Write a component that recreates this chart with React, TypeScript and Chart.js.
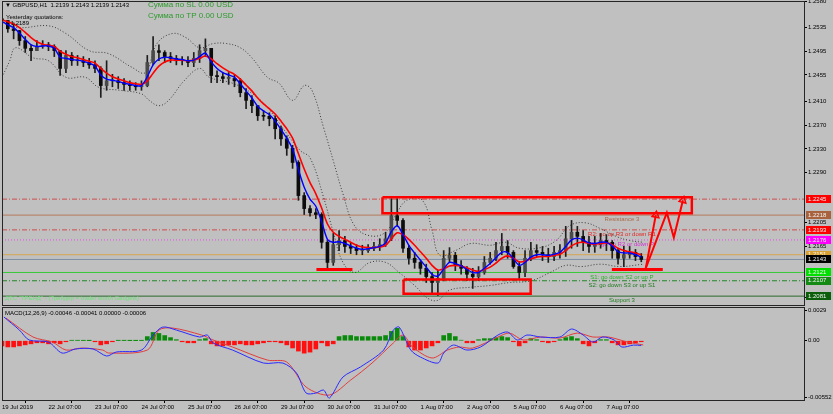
import React, { useEffect, useRef } from 'react';
import { Chart, registerables } from 'chart.js';
Chart.register(...registerables);

const FONT = '"Liberation Sans", Arial, sans-serif';

// ---- time axis (hours since 19 Jul 2019 07:00, weekend removed) ----
const dateLabels = ['19 Jul 2019', '22 Jul 07:00', '23 Jul 07:00', '24 Jul 07:00', '25 Jul 07:00', '26 Jul 07:00', '29 Jul 07:00', '30 Jul 07:00', '31 Jul 07:00', '1 Aug 07:00', '2 Aug 07:00', '5 Aug 07:00', '6 Aug 07:00', '7 Aug 07:00'];
const dateHours = [0, 24, 48, 72, 96, 120, 144, 168, 192, 216, 240, 264, 288, 312];
const hourMin = 0;
const hourMax = 414;
const candleStepHours = 3;

// ---- GBPUSD candles (3-hour aggregation) ----
const opens = [
  1.2550, 1.2547, 1.2533, 1.2530, 1.2513, 1.2500, 1.2496, 1.2503, 1.2506, 1.2503,
  1.2496, 1.2466, 1.2488, 1.2479, 1.2479, 1.2476, 1.2472, 1.2466, 1.2437, 1.2445,
  1.2445, 1.2442, 1.2439, 1.2437, 1.2435, 1.2437, 1.2476, 1.2496, 1.2493, 1.2486,
  1.2483, 1.2479, 1.2479, 1.2476, 1.2483, 1.2496, 1.2500, 1.2454, 1.2452, 1.2449,
  1.2449, 1.2445, 1.2425, 1.2412, 1.2403, 1.2386, 1.2385, 1.2381, 1.2364, 1.2347,
  1.2331, 1.2307, 1.2251, 1.2229, 1.2222, 1.2219, 1.2172, 1.2138, 1.2168, 1.2175,
  1.2165, 1.2162, 1.2158, 1.2158, 1.2162, 1.2165, 1.2168, 1.2178, 1.2217, 1.2209,
  1.2162, 1.2145, 1.2138, 1.2128, 1.2114, 1.2104, 1.2111, 1.2145, 1.2150, 1.2133,
  1.2128, 1.2118, 1.2114, 1.2121, 1.2138, 1.2145, 1.2158, 1.2165, 1.2155, 1.2131,
  1.2121, 1.2145, 1.2158, 1.2155, 1.2151, 1.2148, 1.2155, 1.2158, 1.2178, 1.2189,
  1.2182, 1.2172, 1.2165, 1.2168, 1.2175, 1.2172, 1.2158, 1.2145, 1.2151, 1.2155,
  1.2148,
];
const highs = [
  1.2555, 1.2547, 1.2543, 1.2530, 1.2520, 1.2506, 1.2513, 1.2513, 1.2510, 1.2506,
  1.2496, 1.2496, 1.2493, 1.2488, 1.2486, 1.2483, 1.2479, 1.2469, 1.2479, 1.2456,
  1.2452, 1.2449, 1.2445, 1.2442, 1.2445, 1.2488, 1.2520, 1.2506, 1.2496, 1.2493,
  1.2488, 1.2486, 1.2486, 1.2493, 1.2506, 1.2516, 1.2500, 1.2462, 1.2459, 1.2459,
  1.2456, 1.2449, 1.2432, 1.2420, 1.2403, 1.2395, 1.2391, 1.2386, 1.2368, 1.2352,
  1.2336, 1.2310, 1.2256, 1.2234, 1.2229, 1.2222, 1.2175, 1.2187, 1.2192, 1.2182,
  1.2172, 1.2168, 1.2167, 1.2168, 1.2172, 1.2178, 1.2189, 1.2246, 1.2246, 1.2212,
  1.2167, 1.2155, 1.2141, 1.2135, 1.2121, 1.2124, 1.2158, 1.2163, 1.2155, 1.2141,
  1.2131, 1.2128, 1.2131, 1.2148, 1.2155, 1.2172, 1.2187, 1.2175, 1.2158, 1.2138,
  1.2158, 1.2172, 1.2168, 1.2165, 1.2162, 1.2165, 1.2168, 1.2199, 1.2209, 1.2199,
  1.2192, 1.2182, 1.2182, 1.2187, 1.2185, 1.2175, 1.2162, 1.2165, 1.2165, 1.2160,
  1.2153,
];
const lows = [
  1.2533, 1.2527, 1.2516, 1.2505, 1.2493, 1.2479, 1.2496, 1.2500, 1.2496, 1.2486,
  1.2454, 1.2459, 1.2471, 1.2471, 1.2469, 1.2466, 1.2459, 1.2417, 1.2429, 1.2435,
  1.2432, 1.2429, 1.2429, 1.2429, 1.2429, 1.2435, 1.2472, 1.2479, 1.2476, 1.2476,
  1.2472, 1.2472, 1.2469, 1.2469, 1.2476, 1.2486, 1.2442, 1.2442, 1.2442, 1.2439,
  1.2435, 1.2418, 1.2398, 1.2391, 1.2378, 1.2378, 1.2369, 1.2347, 1.2336, 1.2319,
  1.2297, 1.2243, 1.2219, 1.2216, 1.2212, 1.2162, 1.2124, 1.2133, 1.2158, 1.2155,
  1.2153, 1.2151, 1.2151, 1.2155, 1.2158, 1.2158, 1.2165, 1.2175, 1.2199, 1.2155,
  1.2135, 1.2128, 1.2118, 1.2104, 1.2087, 1.2082, 1.2107, 1.2138, 1.2124, 1.2118,
  1.2107, 1.2094, 1.2107, 1.2118, 1.2135, 1.2141, 1.2151, 1.2145, 1.2128, 1.2111,
  1.2114, 1.2141, 1.2148, 1.2141, 1.2138, 1.2141, 1.2145, 1.2148, 1.2162, 1.2165,
  1.2158, 1.2155, 1.2155, 1.2162, 1.2158, 1.2145, 1.2135, 1.2131, 1.2145, 1.2141,
  1.2139,
];
const closes = [
  1.2547, 1.2533, 1.2530, 1.2513, 1.2500, 1.2496, 1.2503, 1.2506, 1.2503, 1.2496,
  1.2466, 1.2488, 1.2479, 1.2479, 1.2476, 1.2472, 1.2466, 1.2437, 1.2445, 1.2445,
  1.2442, 1.2439, 1.2437, 1.2435, 1.2437, 1.2476, 1.2496, 1.2493, 1.2486, 1.2483,
  1.2479, 1.2479, 1.2476, 1.2483, 1.2496, 1.2500, 1.2454, 1.2452, 1.2449, 1.2449,
  1.2445, 1.2425, 1.2412, 1.2403, 1.2386, 1.2385, 1.2381, 1.2364, 1.2347, 1.2331,
  1.2307, 1.2251, 1.2229, 1.2222, 1.2219, 1.2172, 1.2138, 1.2168, 1.2175, 1.2165,
  1.2162, 1.2158, 1.2158, 1.2162, 1.2165, 1.2168, 1.2178, 1.2217, 1.2209, 1.2162,
  1.2145, 1.2138, 1.2128, 1.2114, 1.2104, 1.2111, 1.2145, 1.2150, 1.2133, 1.2128,
  1.2118, 1.2114, 1.2121, 1.2138, 1.2145, 1.2158, 1.2165, 1.2155, 1.2131, 1.2121,
  1.2145, 1.2158, 1.2155, 1.2151, 1.2148, 1.2155, 1.2158, 1.2178, 1.2189, 1.2182,
  1.2172, 1.2165, 1.2168, 1.2175, 1.2172, 1.2158, 1.2145, 1.2151, 1.2155, 1.2148,
  1.2143,
];

// ---- moving averages ----
const maFast = [
  1.2545, 1.2540, 1.2535, 1.2526, 1.2515, 1.2506, 1.2503, 1.2504, 1.2504, 1.2500,
  1.2485, 1.2483, 1.2481, 1.2480, 1.2478, 1.2475, 1.2470, 1.2455, 1.2448, 1.2446,
  1.2444, 1.2441, 1.2439, 1.2437, 1.2437, 1.2452, 1.2472, 1.2482, 1.2485, 1.2484,
  1.2482, 1.2481, 1.2479, 1.2480, 1.2486, 1.2492, 1.2477, 1.2466, 1.2459, 1.2455,
  1.2451, 1.2440, 1.2428, 1.2416, 1.2402, 1.2394, 1.2388, 1.2377, 1.2363, 1.2348,
  1.2330, 1.2295, 1.2265, 1.2245, 1.2233, 1.2207, 1.2177, 1.2172, 1.2173, 1.2170,
  1.2166, 1.2162, 1.2160, 1.2161, 1.2163, 1.2165, 1.2171, 1.2190, 1.2200, 1.2185,
  1.2167, 1.2154, 1.2142, 1.2130, 1.2118, 1.2115, 1.2127, 1.2138, 1.2136, 1.2132,
  1.2126, 1.2121, 1.2121, 1.2128, 1.2136, 1.2146, 1.2155, 1.2155, 1.2144, 1.2133,
  1.2138, 1.2147, 1.2151, 1.2151, 1.2150, 1.2152, 1.2155, 1.2165, 1.2176, 1.2179,
  1.2176, 1.2171, 1.2170, 1.2172, 1.2172, 1.2166, 1.2156, 1.2154, 1.2154, 1.2151,
  1.2147,
];
const maSlow = [
  1.2548, 1.2545, 1.2541, 1.2535, 1.2527, 1.2518, 1.2511, 1.2507, 1.2505, 1.2503,
  1.2495, 1.2490, 1.2486, 1.2484, 1.2481, 1.2478, 1.2475, 1.2466, 1.2458, 1.2452,
  1.2448, 1.2445, 1.2442, 1.2440, 1.2439, 1.2445, 1.2458, 1.2470, 1.2477, 1.2480,
  1.2480, 1.2480, 1.2479, 1.2480, 1.2483, 1.2487, 1.2482, 1.2474, 1.2467, 1.2461,
  1.2456, 1.2448, 1.2438, 1.2428, 1.2416, 1.2406, 1.2398, 1.2389, 1.2377, 1.2364,
  1.2348, 1.2322, 1.2296, 1.2273, 1.2254, 1.2230, 1.2203, 1.2189, 1.2182, 1.2177,
  1.2172, 1.2167, 1.2164, 1.2163, 1.2163, 1.2164, 1.2167, 1.2178, 1.2188, 1.2185,
  1.2177, 1.2167, 1.2156, 1.2145, 1.2133, 1.2125, 1.2127, 1.2132, 1.2133, 1.2132,
  1.2129, 1.2125, 1.2123, 1.2126, 1.2130, 1.2137, 1.2145, 1.2149, 1.2145, 1.2139,
  1.2140, 1.2144, 1.2147, 1.2148, 1.2148, 1.2150, 1.2152, 1.2158, 1.2166, 1.2171,
  1.2172, 1.2170, 1.2169, 1.2170, 1.2171, 1.2168, 1.2162, 1.2158, 1.2156, 1.2154,
  1.2151,
];

// ---- Bollinger-style envelope (dotted) ----
const bandUpperHours = [0, 9, 24, 33, 45, 55, 67, 74, 80, 88, 95, 102, 109, 116, 123, 129, 137, 143, 150, 156, 160, 166, 171, 176, 182, 190, 198, 203, 209, 217, 222, 226, 234, 242, 252, 260, 267, 278, 286, 293, 301, 309, 317, 324, 331];
const bandUpperPrices = [1.2543, 1.2535, 1.2538, 1.2525, 1.2496, 1.2491, 1.2468, 1.2459, 1.2508, 1.2525, 1.2518, 1.2501, 1.2508, 1.2508, 1.2501, 1.2484, 1.2451, 1.2441, 1.2412, 1.2437, 1.2429, 1.2366, 1.2310, 1.2254, 1.2200, 1.2183, 1.2189, 1.2217, 1.2243, 1.2243, 1.2192, 1.2150, 1.2158, 1.2170, 1.2167, 1.2172, 1.2162, 1.2163, 1.2175, 1.2200, 1.2205, 1.2195, 1.2182, 1.2175, 1.2172];
const bandLowerHours = [0, 4, 7, 16, 24, 33, 43, 50, 61, 72, 76, 81, 86, 94, 102, 107, 119, 129, 137, 147, 154, 159, 166, 171, 176, 182, 190, 198, 205, 213, 220, 225, 231, 242, 252, 262, 273, 283, 291, 299, 309, 319, 331];
const bandLowerPrices = [1.2451, 1.2479, 1.2501, 1.2484, 1.2479, 1.2451, 1.2451, 1.2434, 1.2429, 1.2423, 1.2412, 1.2403, 1.2412, 1.2445, 1.2466, 1.2451, 1.2441, 1.2424, 1.2400, 1.2356, 1.2327, 1.2315, 1.2248, 1.2189, 1.2138, 1.2121, 1.2138, 1.2138, 1.2121, 1.2099, 1.2077, 1.2074, 1.2091, 1.2096, 1.2099, 1.2104, 1.2107, 1.2121, 1.2133, 1.2131, 1.2135, 1.2131, 1.2135];

// ---- price axis ticks & horizontal levels ----
const priceTicks = [1.2580, 1.2535, 1.2495, 1.2455, 1.2410, 1.2370, 1.2330, 1.2290, 1.2205, 1.2165, 1.2079];
const levelPrices = [1.2245, 1.2218, 1.2193, 1.2176, 1.2151, 1.2143, 1.2121, 1.2107, 1.2081];
const levelStyles = [
  { line: '#cf4b4b', dash: [5, 2, 1, 2], box: '#ff0000' },
  { line: '#b47a5c', dash: [], box: '#a8623e' },
  { line: '#cf4b4b', dash: [5, 2, 1, 2], box: '#ff0000' },
  { line: '#e050e0', dash: [1, 2], box: '#ff00ff' },
  { line: '#d6a650', dash: [], box: '#d8a030' },
  { line: '#7d8ea4', dash: [], box: '#000000' },
  { line: '#38c838', dash: [], box: '#00e000' },
  { line: '#22862a', dash: [5, 2, 1, 2], box: '#138a13' },
  { line: '#2a6a2a', dash: [], box: '#0b5f0b' },
];

// ---- pivot captions ----
const pivotTexts = ['Resistance 3', 'R2: go up R3 or down R1', 'R1: go up R2 or down P', 'S1: go down S2 or up P', 'S2: go down S3 or up S1', 'Support 3'];
const pivotTextLevels = [1.2218, 1.2193, 1.2176, 1.2121, 1.2107, 1.2081];
const pivotTextHour = 320;
const pivotTextColors = ['#a86a4a', '#e02828', '#d030d0', '#28b028', '#1f7a1f', '#1f7a1f'];

// ---- hand-drawn red annotations ----
const boxTopHours = [196.4, 356.1];
const boxTopPrices = [1.2248, 1.2221];
const boxBottomHours = [207.3, 272.9];
const boxBottomPrices = [1.2109, 1.2085];
const supportAHours = [162.3, 180.9];
const supportBHours = [314.8, 341.1];
const supportPrice = 1.2126;
const arrowAHours = [332.3, 337.5];
const arrowAPrices = [1.2128, 1.2218];
const arrowBHours = [332.3, 343.2, 346.8, 351.5];
const arrowBPrices = [1.2128, 1.2222, 1.2180, 1.2243];

// ---- MACD(12,26,9) ----
const macdHist = [
  -0.0005, -0.0006, -0.0006, -0.0005, -0.0004, -0.0003, -0.0002, -0.0002, -0.0003, -0.0002,
  -0.0003, -0.0001, 0.00003, 0.00003, 0.00002, 0.00001, -0.0001, -0.0004, -0.0003, -0.0001,
  0.00002, 0.00002, 0.00001, 0.00001, 0.00002, 0.0004, 0.0008, 0.0007, 0.0005, 0.0003,
  0.0001, -0.0001, -0.0002, -0.0002, 0.0001, 0.0002, -0.0003, -0.0005, -0.0005, -0.0004,
  -0.0004, -0.0003, -0.0004, -0.0004, -0.0003, -0.0002, -0.0001, -0.0001, -0.0002, -0.0004,
  -0.0007, -0.0010, -0.0012, -0.0011, -0.0008, -0.0002, -0.0005, -0.0003, 0.0004, 0.0005,
  0.0005, 0.0004, 0.0004, 0.0004, 0.0004, 0.0004, 0.0005, 0.0009, 0.0012, 0.0004,
  -0.0006, -0.0009, -0.0009, -0.0007, -0.0005, -0.0002, 0.0005, 0.0007, 0.0004, 0.00005,
  -0.0002, -0.0002, 0.0001, 0.0002, 0.0002, 0.0003, 0.0004, 0.0003, -0.0001, -0.0005,
  -0.0002, 0.0002, 0.0001, -0.0001, -0.0002, -0.0001, 0.0001, 0.0003, 0.0004, 0.0002,
  -0.0003, -0.0005, -0.0002, 0.0001, 0.0001, -0.0002, -0.0004, -0.0004, -0.0003, -0.0002,
  -0.0001,
];
const macdMainHours = [1, 9, 14, 24, 31, 38, 47, 54, 59, 72, 78, 83, 90, 102, 106, 109, 119, 135, 145, 152, 157, 162, 166, 169, 176, 185, 197, 202, 205, 211, 216, 225, 228, 233, 240, 247, 256, 261, 266, 271, 278, 288, 294, 300, 305, 310, 316, 320, 326, 330];
const macdMainValues = [0.00229, 0.00103, 0.00007, -0.00013, -0.00119, -0.00080, -0.00080, -0.00148, -0.00109, -0.00090, 0.00055, 0.00132, 0.00103, 0.00036, 0.00055, -0.00022, -0.00090, -0.00216, -0.00216, -0.00312, -0.00506, -0.00506, -0.00477, -0.00554, -0.00351, -0.00254, -0.00090, 0.00103, 0.00132, -0.00090, -0.00158, -0.00216, -0.00119, -0.00042, -0.00090, -0.00061, 0.00055, 0.00084, 0.00007, 0.00055, 0.00036, 0.00036, 0.00113, 0.00055, -0.00013, 0.00036, 0.00007, -0.00061, -0.00042, -0.00046];
const macdSignalHours = [2, 16, 26, 33, 41, 52, 55, 75, 81, 88, 103, 109, 119, 137, 147, 157, 169, 180, 191, 202, 207, 212, 222, 230, 236, 243, 256, 262, 269, 278, 288, 297, 305, 313, 323, 331];
const macdSignalValues = [0.00220, 0.00036, -0.00013, -0.00090, -0.00071, -0.00090, -0.00119, -0.00090, 0.00103, 0.00123, 0.00055, 0.00007, -0.00061, -0.00187, -0.00206, -0.00448, -0.00525, -0.00380, -0.00216, -0.00022, 0.00055, -0.00061, -0.00167, -0.00090, -0.00061, -0.00071, 0.00036, 0.00074, 0.00007, 0.00036, 0.00026, 0.00074, 0.00036, 0.00036, -0.00013, -0.00041];
const macdTickValues = [0.0029, 0, -0.00552];
const macdTickLabels = ['0.0029', '0.00', '-0.00552'];

const pts = (hs: number[], vs: number[]) => hs.map((h, i) => ({ x: h, y: vs[i] }));

const frameAndText = (id: string, draw: (chart: any) => void) => ({
  id,
  afterDraw(chart: any) {
    const { ctx, chartArea } = chart;
    ctx.save();
    ctx.strokeStyle = '#262626';
    ctx.lineWidth = 1;
    ctx.strokeRect(chartArea.left + 0.5, chartArea.top + 0.5, chartArea.right - chartArea.left, chartArea.bottom - chartArea.top);
    draw(chart);
    ctx.restore();
  },
});

export default function App() {
  const mainRef = useRef<HTMLCanvasElement>(null);
  const macdRef = useRef<HTMLCanvasElement>(null);

  useEffect(() => {
    Chart.defaults.font.family = FONT;
    Chart.defaults.font.size = 6;
    Chart.defaults.color = '#000';

    const candleHours = closes.map((_, i) => i * candleStepHours);
    const wickData = candleHours.map((h, i) => ({ x: h, y: [lows[i], highs[i]] }));
    const bodyData = candleHours.map((h, i) => ({ x: h, y: [opens[i], closes[i]] }));
    const bodyColors = closes.map((c, i) => (c >= opens[i] ? '#4a4a4a' : '#0c0c0c'));

    const levelSets = levelPrices.map((v, i) => ({
      type: 'line',
      data: [{ x: hourMin, y: v }, { x: hourMax, y: v }],
      borderColor: levelStyles[i].line,
      borderDash: levelStyles[i].dash,
      borderWidth: 1,
      pointRadius: 0,
      order: 20,
    }));

    const redLine = (data: any[], width: number, extra: any = {}) => ({
      type: 'line',
      data,
      borderColor: '#ff0000',
      borderWidth: width,
      pointRadius: 0,
      tension: 0,
      order: 1,
      ...extra,
    });
    const rectPts = (hs: number[], ps: number[]) => [
      { x: hs[0], y: ps[0] }, { x: hs[1], y: ps[0] }, { x: hs[1], y: ps[1] }, { x: hs[0], y: ps[1] }, { x: hs[0], y: ps[0] },
    ];
    const arrowHead = (n: number, rot: number) => ({
      pointStyle: 'triangle',
      pointRadius: (c: any) => (c.dataIndex === n - 1 ? 4 : 0),
      pointRotation: rot,
      pointBorderColor: '#ff0000',
      pointBackgroundColor: 'rgba(0,0,0,0)',
      pointBorderWidth: 1.5,
    });

    const mainPlugin = frameAndText('mainFrame', (chart) => {
      const { ctx, chartArea, scales } = chart;
      const y = scales.y;
      ctx.font = `6px ${FONT}`;
      ctx.textAlign = 'left';
      ctx.textBaseline = 'middle';
      levelPrices.forEach((v, i) => {
        const py = y.getPixelForValue(v);
        ctx.fillStyle = levelStyles[i].box;
        ctx.fillRect(chartArea.right + 2, Math.round(py) - 4, 25, 8);
        ctx.fillStyle = '#f4f4f4';
        ctx.fillText(v.toFixed(4), chartArea.right + 4, py);
      });
      ctx.fillStyle = '#000';
      ctx.textBaseline = 'middle';
      ctx.fillText('▼ GBPUSD,H1  1.2139 1.2143 1.2139 1.2143', 5, 5);
      ctx.fillText('Yesterday quotations:', 6, 17);
      ctx.fillText('- 1.2189', 7, 23);
      ctx.font = `8px ${FONT}`;
      ctx.fillStyle = '#2f9a2f';
      ctx.fillText('Сумма по SL 0.00 USD', 148, 5);
      ctx.fillText('Сумма по TP 0.00 USD', 148, 16);
      ctx.font = `6px ${FONT}`;
      ctx.fillStyle = '#6fe07a';
      ctx.fillText('ДТС "ТРЕНД" - (Трейдер = trader worth Gadgets)', 5, 298);
    });
    const pivotTextPlugin = {
      id: 'pivotText',
      beforeDatasetsDraw(chart: any) {
        const { ctx, scales } = chart;
        ctx.save();
        ctx.font = `6px ${FONT}`;
        ctx.textAlign = 'center';
        ctx.textBaseline = 'top';
        pivotTexts.forEach((t, i) => {
          ctx.fillStyle = pivotTextColors[i];
          ctx.fillText(t, scales.x.getPixelForValue(pivotTextHour), scales.y.getPixelForValue(pivotTextLevels[i]) + 1.5);
        });
        ctx.restore();
      },
    };

    const main = new Chart(mainRef.current!, {
      type: 'bar',
      data: {
        datasets: [
          ...levelSets,
          { type: 'line', data: pts(bandUpperHours, bandUpperPrices), borderColor: '#3a3a3a', borderDash: [1, 2], borderWidth: 1, pointRadius: 0, tension: 0.4, order: 15 },
          { type: 'line', data: pts(bandLowerHours, bandLowerPrices), borderColor: '#3a3a3a', borderDash: [1, 2], borderWidth: 1, pointRadius: 0, tension: 0.4, order: 15 },
          { type: 'bar', data: wickData, backgroundColor: '#1e1e1e', barThickness: 1, grouped: false, order: 12 },
          { type: 'bar', data: bodyData, backgroundColor: bodyColors, barThickness: 3, minBarLength: 1, grouped: false, order: 11 },
          { type: 'line', data: pts(candleHours, maSlow), borderColor: '#ff0000', borderWidth: 1.6, pointRadius: 0, tension: 0.3, order: 6 },
          { type: 'line', data: pts(candleHours, maFast), borderColor: '#0000ff', borderWidth: 1.4, pointRadius: 0, tension: 0.3, order: 5 },
          redLine(rectPts(boxTopHours, boxTopPrices), 2.5),
          redLine(rectPts(boxBottomHours, boxBottomPrices), 2.5),
          redLine([{ x: supportAHours[0], y: supportPrice }, { x: supportAHours[1], y: supportPrice }], 3),
          redLine([{ x: supportBHours[0], y: supportPrice }, { x: supportBHours[1], y: supportPrice }], 3),
          redLine(pts(arrowAHours, arrowAPrices), 2, arrowHead(arrowAHours.length, 10)),
          redLine(pts(arrowBHours, arrowBPrices), 2, arrowHead(arrowBHours.length, 14)),
        ] as any,
      },
      options: {
        responsive: false,
        animation: false,
        events: [],
        layout: { autoPadding: false, padding: { left: 2, top: 1, right: 0, bottom: 1 } },
        plugins: { legend: { display: false }, tooltip: { enabled: false } },
        scales: {
          x: { type: 'linear', min: hourMin, max: hourMax, display: false, offset: false, grid: { display: false } },
          y: {
            position: 'right',
            min: 1.2066,
            max: 1.2580,
            afterBuildTicks: (a: any) => { a.ticks = priceTicks.map((v) => ({ value: v })); },
            afterFit: (s: any) => { s.width = 29; s.paddingTop = 0; s.paddingBottom = 0; },
            ticks: { autoSkip: false, padding: 1, font: { size: 6, family: FONT }, color: '#000', callback: (v: any) => Number(v).toFixed(4) },
            grid: { drawOnChartArea: false, tickLength: 3, color: '#000' },
            border: { color: '#262626' },
          },
        },
      } as any,
      plugins: [pivotTextPlugin, mainPlugin],
    });

    const histData = macdHist.map((v, i) => ({ x: i * candleStepHours, y: v }));
    const histColors = macdHist.map((v) => (v >= 0 ? '#0a8a0a' : '#ff1010'));
    const macdPlugin = frameAndText('macdFrame', (chart) => {
      const { ctx } = chart;
      ctx.font = `6px ${FONT}`;
      ctx.fillStyle = '#000';
      ctx.textAlign = 'left';
      ctx.textBaseline = 'middle';
      ctx.fillText('MACD(12,26,9) -0.00046 -0.00041 0.00000 -0.00006', 5, 7);
    });

    const macd = new Chart(macdRef.current!, {
      type: 'bar',
      data: {
        datasets: [
          { type: 'line', data: pts(macdMainHours, macdMainValues), borderColor: '#2a2aff', borderWidth: 1, pointRadius: 0, tension: 0.3, order: 2 },
          { type: 'line', data: pts(macdSignalHours, macdSignalValues), borderColor: '#e23c3c', borderWidth: 1, pointRadius: 0, tension: 0.3, order: 3 },
          { type: 'bar', data: histData, backgroundColor: histColors, barThickness: 4, grouped: false, order: 5 },
        ] as any,
      },
      options: {
        responsive: false,
        animation: false,
        events: [],
        layout: { autoPadding: false, padding: { left: 2, top: 1, right: 0, bottom: 0 } },
        plugins: { legend: { display: false }, tooltip: { enabled: false } },
        scales: {
          x: {
            type: 'linear',
            min: hourMin,
            max: hourMax,
            offset: false,
            afterBuildTicks: (a: any) => { a.ticks = dateHours.map((v) => ({ value: v })); },
            afterFit: (s: any) => { s.height = 14; s.paddingLeft = 0; s.paddingRight = 0; },
            ticks: {
              autoSkip: false,
              maxRotation: 0,
              minRotation: 0,
              align: 'start',
              padding: 1,
              font: { size: 6, family: FONT },
              color: '#000',
              callback: (_v: any, i: number) => dateLabels[i],
            },
            grid: { drawOnChartArea: false, tickLength: 3, color: '#000' },
            border: { color: '#262626' },
          },
          y: {
            position: 'right',
            min: -0.00573,
            max: 0.00326,
            afterBuildTicks: (a: any) => { a.ticks = macdTickValues.map((v) => ({ value: v })); },
            afterFit: (s: any) => { s.width = 29; s.paddingTop = 0; s.paddingBottom = 0; },
            ticks: { autoSkip: false, padding: 1, font: { size: 6, family: FONT }, color: '#000', callback: (_v: any, i: number) => macdTickLabels[i] },
            grid: { drawOnChartArea: false, tickLength: 3, color: '#000' },
            border: { color: '#262626' },
          },
        },
      } as any,
      plugins: [macdPlugin],
    });

    return () => {
      main.destroy();
      macd.destroy();
    };
  }, []);

  return (
    <div style={{ position: 'absolute', left: 0, top: 0, width: 833, height: 414, background: '#c0c0c0', overflow: 'hidden' }}>
      <canvas ref={mainRef} width={833} height={306} style={{ position: 'absolute', left: 0, top: 0 }} />
      <canvas ref={macdRef} width={833} height={108} style={{ position: 'absolute', left: 0, top: 306 }} />
    </div>
  );
}
